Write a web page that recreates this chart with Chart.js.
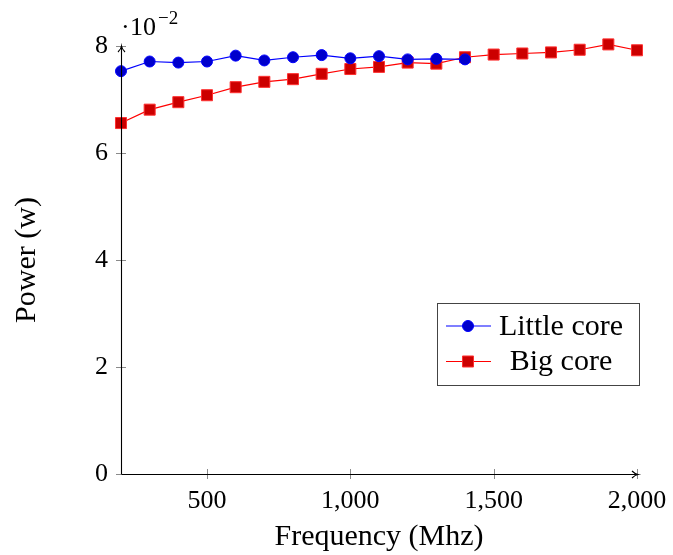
<!DOCTYPE html>
<html>
<head>
<meta charset="utf-8">
<script src="https://cdn.jsdelivr.net/npm/chart.js@4/dist/chart.umd.min.js"></script>
<style>
  html, body { margin: 0; padding: 0; background: #fff; }
  #wrap { width: 673px; height: 555px; }
</style>
</head>
<body>
<div id="wrap"><canvas id="c" width="673" height="555"></canvas></div>
<script>
// Frequency steps (MHz)
const littleFreq = [200, 300, 400, 500, 600, 700, 800, 900, 1000, 1100, 1200, 1300, 1400];
const bigFreq = [200, 300, 400, 500, 600, 700, 800, 900, 1000, 1100, 1200, 1300, 1400, 1500, 1600, 1700, 1800, 1900, 2000];

// Measured power (W)
const littlePower = [0.0753, 0.0771, 0.0769, 0.0771, 0.0782, 0.0773, 0.0779, 0.0783, 0.0777, 0.0781, 0.0775, 0.0776, 0.0775];
const bigPower = [0.0656, 0.0681, 0.0695, 0.0708, 0.0723, 0.0733, 0.0738, 0.0748, 0.0757, 0.0761, 0.0769, 0.0767, 0.0779, 0.0784, 0.0786, 0.0788, 0.0793, 0.0803, 0.0792];

const seriesNames = ['Little core', 'Big core'];
const xTickValues = [500, 1000, 1500, 2000];
const yTickValues = [0, 0.02, 0.04, 0.06, 0.08];
const yScaleLabel = ['\u00B7', '10', '\u22122'];

const SERIF = '"Liberation Serif", "DejaVu Serif", serif';
Chart.defaults.color = '#000';
Chart.defaults.font.family = SERIF;

const pairs = (xs, ys) => xs.map((x, i) => ({ x: x, y: ys[i] }));

// Axis lines with arrow heads, crossing tick marks, 10^-2 multiplier
const axesPlugin = {
  id: 'axesPlugin',
  afterDatasetsDraw(chart) {
    const { ctx, chartArea: a, scales: { x, y } } = chart;
    ctx.save();
    // tick marks
    ctx.strokeStyle = '#8a8a8a';
    ctx.lineWidth = 1;
    ctx.beginPath();
    xTickValues.forEach(v => {
      const px = Math.round(x.getPixelForValue(v)) + 0.5;
      ctx.moveTo(px, a.bottom - 5); ctx.lineTo(px, a.bottom + 5);
    });
    yTickValues.forEach(v => {
      const py = Math.round(y.getPixelForValue(v)) + 0.5;
      ctx.moveTo(a.left - 5, py); ctx.lineTo(a.left + (v === 0 ? 0 : 5), py);
    });
    ctx.stroke();
    // axis lines
    ctx.strokeStyle = '#000';
    ctx.lineWidth = 1.1;
    const x0 = Math.round(a.left) + 0.5, yb = Math.round(a.bottom) + 0.5;
    const yTop = y.getPixelForValue(0.08), xEnd = x.getPixelForValue(2000) + 1;
    ctx.beginPath();
    ctx.moveTo(x0, yb); ctx.lineTo(x0, yTop);
    ctx.moveTo(x0, yb); ctx.lineTo(xEnd, yb);
    ctx.stroke();
    // arrow heads
    ctx.beginPath();
    ctx.moveTo(x0 - 3.5, yTop + 6); ctx.quadraticCurveTo(x0 - 0.5, yTop + 3, x0, yTop);
    ctx.quadraticCurveTo(x0 + 0.5, yTop + 3, x0 + 3.5, yTop + 6);
    ctx.moveTo(xEnd - 6, yb - 3.5); ctx.quadraticCurveTo(xEnd - 3, yb - 0.5, xEnd, yb);
    ctx.quadraticCurveTo(xEnd - 3, yb + 0.5, xEnd - 6, yb + 3.5);
    ctx.stroke();
    // scale multiplier above the y axis
    ctx.fillStyle = '#000';
    ctx.textBaseline = 'alphabetic';
    ctx.textAlign = 'left';
    ctx.font = '26px ' + SERIF;
    ctx.fillText(yScaleLabel[0], a.left, 35);
    ctx.fillText(yScaleLabel[1], a.left + 9, 35);
    const w = ctx.measureText(yScaleLabel[1]).width;
    ctx.font = '19px ' + SERIF;
    ctx.fillText(yScaleLabel[2], a.left + 9 + w + 2, 24);
    ctx.restore();
  }
};

// Boxed legend inside the plot area
const legendPlugin = {
  id: 'boxLegend',
  afterDraw(chart) {
    const { ctx, chartArea: a } = chart;
    const bx = a.right - 200, by = a.bottom - 171, bw = 202, bh = 82;
    ctx.save();
    ctx.fillStyle = '#fff';
    ctx.fillRect(bx, by, bw, bh);
    ctx.strokeStyle = '#444';
    ctx.lineWidth = 1;
    ctx.strokeRect(Math.round(bx) + 0.5, Math.round(by) + 0.5, bw, bh);
    chart.data.datasets.forEach((ds, i) => {
      const cy = by + 23 + i * 35.5;
      ctx.strokeStyle = ds.borderColor;
      ctx.lineWidth = ds.borderWidth;
      ctx.beginPath();
      ctx.moveTo(bx + 9, cy); ctx.lineTo(bx + 54, cy);
      ctx.stroke();
      ctx.fillStyle = ds.pointBackgroundColor;
      ctx.strokeStyle = ds.pointBorderColor;
      ctx.lineWidth = ds.pointBorderWidth;
      ctx.beginPath();
      if (ds.pointStyle === 'circle') {
        ctx.arc(bx + 31, cy, ds.pointRadius, 0, Math.PI * 2);
      } else {
        const h = ds.pointRadius * Math.SQRT1_2;
        ctx.rect(bx + 31 - h, cy - h, 2 * h, 2 * h);
      }
      ctx.fill(); ctx.stroke();
      ctx.fillStyle = '#000';
      ctx.font = '30px ' + SERIF;
      ctx.textAlign = 'center';
      ctx.textBaseline = 'middle';
      ctx.fillText(ds.label, bx + 124, cy + 1);
    });
    ctx.restore();
  }
};

new Chart(document.getElementById('c'), {
  type: 'line',
  data: {
    datasets: [
      {
        label: seriesNames[0],
        data: pairs(littleFreq, littlePower),
        borderColor: '#0000ff',
        borderWidth: 1.2,
        pointStyle: 'circle',
        pointRadius: 5.5,
        pointBackgroundColor: '#0000cc',
        pointBorderColor: '#0000ff',
        pointBorderWidth: 1,
        tension: 0,
        fill: false
      },
      {
        label: seriesNames[1],
        data: pairs(bigFreq, bigPower),
        borderColor: '#ff0000',
        borderWidth: 1.2,
        pointStyle: 'rect',
        pointRadius: 7.8,
        pointBackgroundColor: '#cc0000',
        pointBorderColor: '#ff3030',
        pointBorderWidth: 1,
        tension: 0,
        fill: false
      }
    ]
  },
  options: {
    responsive: false,
    animation: false,
    devicePixelRatio: 1,
    clip: false,
    layout: { padding: { left: 0, right: 36, top: 46, bottom: 0 } },
    plugins: { legend: { display: false }, tooltip: { enabled: false } },
    scales: {
      x: {
        type: 'linear',
        min: 200,
        max: 2000,
        grid: { display: false, drawTicks: false },
        border: { display: false },
        afterBuildTicks: s => { s.ticks = xTickValues.map(v => ({ value: v })); },
        afterFit: s => { s.height = 81; s.paddingLeft = 0; s.paddingRight = 0; },
        ticks: {
          padding: 12,
          autoSkip: false,
          maxRotation: 0,
          font: { size: 26, family: SERIF },
          callback: v => Number(v).toLocaleString('en-US')
        },
        title: {
          display: true,
          text: 'Frequency (Mhz)',
          font: { size: 30, family: SERIF },
          padding: { top: 0, bottom: 0 }
        }
      },
      y: {
        type: 'linear',
        min: 0,
        max: 0.08,
        grid: { display: false, drawTicks: false },
        border: { display: false },
        afterBuildTicks: s => { s.ticks = yTickValues.map(v => ({ value: v })); },
        afterFit: s => { s.width = 121; s.paddingTop = 0; s.paddingBottom = 0; },
        ticks: {
          padding: 13,
          font: { size: 26, family: SERIF },
          callback: v => String(Math.round(v * 100))
        },
        title: {
          display: true,
          text: 'Power (w)',
          font: { size: 30, family: SERIF },
          padding: { top: 9, bottom: 0 }
        }
      }
    }
  },
  plugins: [axesPlugin, legendPlugin]
});
</script>
</body>
</html>
